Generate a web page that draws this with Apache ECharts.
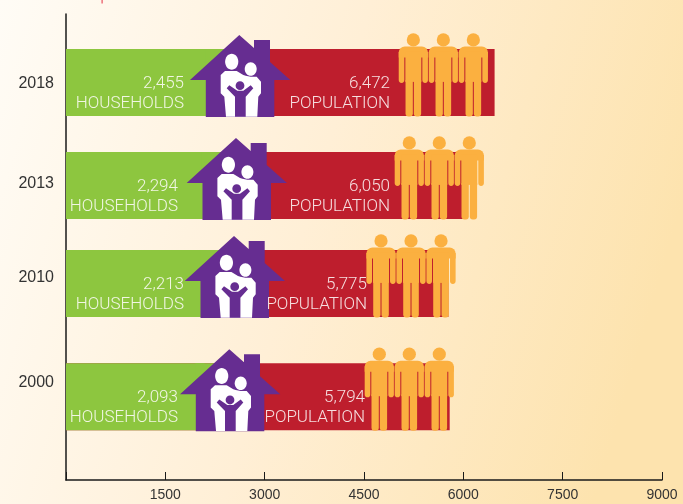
<!DOCTYPE html>
<html>
<head>
<meta charset="utf-8">
<style>html,body{margin:0;padding:0}#c{width:683px;height:504px}</style>
<script src="https://cdn.jsdelivr.net/npm/echarts@6/dist/echarts.min.js"></script>
</head>
<body>
<div id="c"></div>
<script>
// Values
const years = ['2018', '2013', '2010', '2000'];
const households = [2455, 2294, 2213, 2093];
const population = [6472, 6050, 5775, 5794];
const xTicks = [1500, 3000, 4500, 6000, 7500, 9000];

// Row layout on the vertical axis (0 = top of the plot)
const barRows = [68.4, 171.4, 269.4, 382.7];
const tickRows = [67, 167, 261, 366];
const yearLabelRows = [69.5, 169.5, 264, 368.5];
const rowHeight = 67;

// Where each row's icons and captions sit along the horizontal axis
const houseAt = [2617, 2567, 2537, 2466];
const peopleAt = [5245, 5184, 4757, 4731];
const householdTextAt = [1782, 1691, 1782, 1691];
const populationTextAt = [4893, 4893, 4545, 4515];
const peopleStep = 453;

const GREEN = '#8dc63f', RED = '#be1e2d', PURPLE = '#662d91', ORANGE = '#fbb040';
const TEXT_FONT = '300 17px Roboto, "Liberation Sans", sans-serif';

const shift = (pts, x, y) => pts.map(p => [p[0] + x, p[1] + y]);

const housePts = [[0, 0], [14.7, 13], [14.7, 5], [30.7, 5], [30.7, 27], [51, 45], [35, 45], [35, 82],
  [-33.5, 82], [-33.5, 45], [-49.3, 45]];
const adultsPts = [[-18.6, 40], [-14.3, 36], [-2.6, 36], [4, 40], [6.4, 40.7], [11.4, 41.7], [17.4, 41.7],
  [21.7, 46.7], [21.7, 58.3], [19, 61.7], [18, 81.7], [-13.3, 81.7], [-15, 61.7], [-18.6, 58.3]];
const childPts = [[-12.6, 53.3], [-10, 50.3], [-2, 55.7], [4, 55.7], [11.4, 50.3], [14, 53.3], [6.4, 61.7],
  [6.4, 81.7], [-4.3, 81.7], [-4.3, 61.7]];

function barItem(colorOf, valueOf) {
  return function (params, api) {
    const i = params.dataIndex;
    const a = api.coord([0, barRows[i]]);
    const b = api.coord([valueOf[i], barRows[i]]);
    const h = api.size([0, rowHeight])[1];
    return { type: 'rect', shape: { x: a[0], y: a[1] - h / 2, width: b[0] - a[0], height: h },
      style: { fill: colorOf } };
  };
}

function houseItem(params, api) {
  const i = params.dataIndex;
  const c = api.coord([houseAt[i], barRows[i]]);
  const h = api.size([0, rowHeight])[1];
  const x = c[0], y = c[1] - 47.4;
  const poly = (pts, fill) => ({ type: 'polygon', shape: { points: shift(pts, x, y) }, style: { fill } });
  const oval = (dx, dy, rx, ry, fill) => ({ type: 'ellipse', shape: { cx: x + dx, cy: y + dy, rx, ry }, style: { fill } });
  return { type: 'group', children: [
    // the icon's green backing under the left half of the roof
    { type: 'rect', shape: { x: x - 34, y: c[1] - h / 2, width: 34, height: h }, style: { fill: GREEN } },
    poly(housePts, PURPLE),
    poly(adultsPts, '#fff'),
    oval(-7.6, 26.7, 6.6, 8, '#fff'),
    oval(11.4, 34, 6, 6.8, '#fff'),
    poly(childPts, PURPLE),
    oval(0.7, 50.7, 4.4, 4.4, PURPLE)
  ] };
}

function peopleItem(params, api) {
  const i = params.dataIndex;
  const children = [];
  const rect = (x, y, w, h, r) => ({ type: 'rect', shape: { x, y, width: w, height: h, r }, style: { fill: ORANGE } });
  for (let k = 0; k < 3; k++) {
    const c = api.coord([peopleAt[i] + k * peopleStep, barRows[i]]);
    const x = c[0], y = c[1] - 42.5;
    children.push(
      { type: 'circle', shape: { cx: x, cy: y, r: 6.6 }, style: { fill: ORANGE } },
      rect(x - 14.6, y + 6.6, 29.2, 11, [6, 6, 0, 0]),
      rect(x - 14.6, y + 12, 5.6, 31, [0, 0, 2.8, 2.8]),
      rect(x + 9, y + 12, 5.6, 31, [0, 0, 2.8, 2.8]),
      rect(x - 8, y + 12, 16, 30, 0),
      rect(x - 7.8, y + 40, 7.3, 36.5, [0, 0, 3, 3]),
      rect(x + 0.5, y + 40, 7.3, 36.5, [0, 0, 3, 3])
    );
  }
  return { type: 'group', children };
}

function captionItem(params, api) {
  const i = params.dataIndex;
  const left = api.coord([householdTextAt[i], barRows[i]]);
  const right = api.coord([populationTextAt[i], barRows[i]]);
  const y = left[1];
  const t = (x, yy, text, fill) => ({ type: 'text', style: { x, y: yy, text, fill, font: TEXT_FONT,
    align: 'right', verticalAlign: 'middle' } });
  const fmt = n => n.toLocaleString('en-US');
  return { type: 'group', children: [
    t(left[0], y + 1.5, fmt(households[i]), '#f1f6e4'),
    t(left[0], y + 21.5, 'HOUSEHOLDS', '#f1f6e4'),
    t(right[0], y + 1.5, fmt(population[i]), '#f6dfe0'),
    t(right[0], y + 21.5, 'POPULATION', '#f6dfe0')
  ] };
}

const rowData = years.map((y, i) => [population[i], barRows[i]]);
const layer = (renderItem, z) => ({ type: 'custom', coordinateSystem: 'cartesian2d', data: rowData,
  encode: { x: 0, y: 1 }, renderItem, clip: false, silent: true, z, animation: false });

const chart = echarts.init(document.getElementById('c'), null, { renderer: 'canvas' });
chart.setOption({
  animation: false,
  backgroundColor: new echarts.graphic.LinearGradient(0, 0, 1, 0.4, [
    { offset: 0, color: '#fffcf6' },
    { offset: 0.5, color: '#ffefd6' },
    { offset: 1, color: '#fde3ae' }
  ]),
  grid: { left: 66, right: 21, top: 14, bottom: 24, containLabel: false },
  xAxis: {
    type: 'value', min: 0, max: 9000, interval: 1500, position: 'bottom',
    splitLine: { show: false },
    axisLine: { show: true, onZero: false, lineStyle: { color: '#1a1a1a', width: 1.5 } },
    axisTick: { show: true, inside: true, length: 8, lineStyle: { color: '#1a1a1a', width: 1 } },
    axisLabel: {
      margin: 8, color: '#333', fontSize: 14, fontFamily: '"Liberation Sans", sans-serif',
      formatter: v => xTicks.includes(v) ? String(v) : '', hideOverlap: false
    }
  },
  yAxis: {
    type: 'value', min: 0, max: 466, inverse: true,
    splitLine: { show: false },
    axisLine: { show: true, onZero: false, lineStyle: { color: '#1a1a1a', width: 1.5 } },
    axisTick: { show: true, inside: true, length: 12, customValues: tickRows, lineStyle: { color: '#1a1a1a', width: 1 } },
    axisLabel: {
      margin: 12, color: '#333', fontSize: 16, fontFamily: '"Liberation Sans", sans-serif',
      customValues: yearLabelRows,
      formatter: v => years[yearLabelRows.indexOf(v)] ?? ''
    }
  },
  graphic: [{ type: 'rect', shape: { x: 101.5, y: 0, width: 1.2, height: 3.5 }, style: { fill: '#e8505f' } }],
  series: [
    layer(barItem(RED, population), 3),
    layer(barItem(GREEN, households), 4),
    layer(houseItem, 5),
    layer(peopleItem, 6),
    layer(captionItem, 7)
  ]
});
</script>
</body>
</html>
